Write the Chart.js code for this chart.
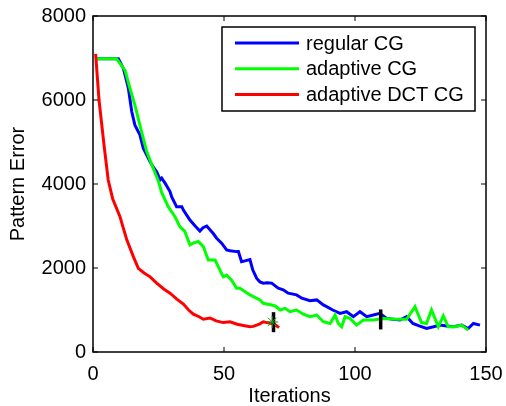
<!DOCTYPE html>
<html>
<head>
<meta charset="utf-8">
<script src="https://cdn.jsdelivr.net/npm/chart.js@4.4.1/dist/chart.umd.min.js"></script>
<style>
  html, body { margin: 0; padding: 0; background: #fff; }
  #wrap { width: 506px; height: 406px; }
</style>
</head>
<body>
<div id="wrap"><canvas id="errChart"></canvas></div>
<script>
// ─── Data ────────────────────────────────────────────────────────────────────
const seriesLabels = ['regular CG', 'adaptive CG', 'adaptive DCT CG'];

const regularIters = [1, 9.7, 11.6, 13.5, 14.8, 16, 17.9, 19.2, 21.8, 23, 24.3, 25.6, 26.2, 27.5, 29.4, 30, 31.9, 33.9, 34.5, 37, 39, 40.8, 42, 43.4, 45.9, 47.2, 49.1, 51, 52.3, 54.8, 55.5, 56.7, 58, 59.9, 61, 62.5, 63.7, 65, 66.5, 68.2, 70.7, 72.6, 74.5, 77.7, 79.7, 82.8, 85.4, 87.9, 89.2, 91.5, 94.3, 96.8, 99.4, 101.9, 104.5, 107, 109.5, 112.1, 114.5, 117.2, 119.7, 122.1, 124.5, 127.3, 130, 132.4, 135, 137.5, 140.7, 143.2, 145.2, 147.7];
const regularErr   = [6980, 6980, 6750, 6280, 5720, 5400, 5170, 4850, 4530, 4400, 4290, 4100, 4140, 4020, 3820, 3700, 3460, 3460, 3380, 3140, 3000, 2880, 2960, 3000, 2820, 2710, 2590, 2430, 2410, 2390, 2390, 2150, 2170, 2200, 1950, 1750, 1670, 1640, 1650, 1640, 1520, 1480, 1400, 1360, 1280, 1220, 1240, 1120, 1080, 1000, 920, 960, 840, 960, 840, 880, 920, 800, 780, 760, 840, 680, 620, 560, 600, 640, 620, 600, 640, 560, 680, 640];

const adaptiveIters = [1, 9, 12.2, 14.1, 16, 17.9, 20.5, 23, 24.9, 26.2, 28.7, 31.3, 33.2, 35, 37, 38.5, 40.2, 42.1, 44, 46.6, 49.7, 51, 52.9, 54.8, 56.1, 59.9, 63.7, 65, 68.2, 69.5, 71.4, 73.3, 75.2, 77.7, 80.3, 82.8, 85.4, 87.9, 90.5, 92.4, 93.6, 94.9, 96.2, 98.1, 100.6, 103.2, 107, 110.8, 115.9, 119.7, 122.9, 125.4, 127.3, 129.2, 131.8, 133.7, 135.6, 138.2, 140.7, 143.2];
const adaptiveErr   = [6980, 6980, 6710, 6280, 5880, 5400, 4770, 4370, 4080, 3800, 3460, 3220, 2980, 2880, 2550, 2600, 2630, 2510, 2190, 2190, 1790, 1830, 1710, 1520, 1520, 1360, 1240, 1160, 1120, 1100, 1000, 1040, 960, 1000, 900, 840, 880, 720, 680, 880, 680, 600, 840, 800, 640, 760, 760, 800, 780, 780, 1080, 700, 680, 1000, 600, 860, 600, 600, 640, 520];

const dctIters = [1, 2.3, 4.2, 5.8, 7.5, 10.3, 12.9, 15.4, 17.3, 19.5, 21.8, 24.3, 27, 29.4, 32, 34.5, 36.5, 38.3, 40.5, 42.1, 44.7, 47, 49.7, 52.3, 55, 57.4, 59.9, 61.2, 63.7, 65, 66.3, 68.2, 69.5, 71];
const dctErr   = [7100, 6000, 4930, 4095, 3650, 3220, 2670, 2270, 1990, 1880, 1790, 1640, 1500, 1400, 1260, 1140, 1000, 900, 840, 780, 810, 740, 700, 720, 660, 630, 600, 610, 670, 720, 700, 680, 650, 580];

// stop markers (black bars)
const stopIters = [68.9, 109.8];
const stopErr   = [710, 775];
const starIters = [68.4];
const starErr   = [715];

const xTicks = [0, 50, 100, 150];
const yTicks = [0, 2000, 4000, 6000, 8000];

function pts(xs, ys) {
    return xs.map(function (x, i) { return { x: x, y: ys[i] }; });
}

const FONT = { family: "'Liberation Sans', Arial, sans-serif", size: 20 };

// ─── Box + inward ticks (MATLAB style) ───────────────────────────────────────
const boxPlugin = {
    id: 'box',
    afterDatasetsDraw: function (chart) {
        const ctx = chart.ctx, a = chart.chartArea;
        const xs = chart.scales.x, ys = chart.scales.y;
        ctx.save();
        ctx.strokeStyle = '#000';
        ctx.lineWidth = 1.5;
        ctx.strokeRect(a.left, a.top, a.right - a.left, a.bottom - a.top);
        ctx.lineWidth = 1;
        ctx.beginPath();
        xTicks.forEach(function (v) {
            const px = xs.getPixelForValue(v);
            ctx.moveTo(px, a.bottom); ctx.lineTo(px, a.bottom - 5);
            ctx.moveTo(px, a.top);    ctx.lineTo(px, a.top + 5);
        });
        yTicks.forEach(function (v) {
            const py = ys.getPixelForValue(v);
            ctx.moveTo(a.left, py);  ctx.lineTo(a.left + 5, py);
            ctx.moveTo(a.right, py); ctx.lineTo(a.right - 5, py);
        });
        ctx.stroke();
        ctx.restore();
    }
};

// ─── Legend box inside the plot, top right ───────────────────────────────────
const legendPlugin = {
    id: 'boxLegend',
    afterDraw: function (chart) {
        const ctx = chart.ctx;
        const bx = 222, by = 27, bw = 253, bh = 84;
        ctx.save();
        ctx.fillStyle = '#fff';
        ctx.fillRect(bx, by, bw, bh);
        ctx.strokeStyle = '#000';
        ctx.lineWidth = 1.5;
        ctx.strokeRect(bx, by, bw, bh);
        ctx.font = FONT.size + 'px ' + FONT.family;
        ctx.textBaseline = 'middle';
        ctx.fillStyle = '#000';
        seriesLabels.forEach(function (lbl, i) {
            const ds = chart.data.datasets[i];
            const y = by + 16 + i * 25.7;
            ctx.strokeStyle = ds.borderColor;
            ctx.lineWidth = 3;
            ctx.beginPath();
            ctx.moveTo(235, y); ctx.lineTo(299, y);
            ctx.stroke();
            ctx.fillText(lbl, 306, y + 1);
        });
        ctx.restore();
    }
};

new Chart(document.getElementById('errChart'), {
    type: 'line',
    data: {
        datasets: [
            {
                label: seriesLabels[0],
                data: pts(regularIters, regularErr),
                borderColor: '#0000ff',
                borderWidth: 3,
                pointRadius: 0,
                tension: 0,
                order: 3
            },
            {
                label: seriesLabels[1],
                data: pts(adaptiveIters, adaptiveErr),
                borderColor: '#00ff00',
                borderWidth: 3,
                pointRadius: 0,
                tension: 0,
                order: 2
            },
            {
                label: seriesLabels[2],
                data: pts(dctIters, dctErr),
                borderColor: '#ff0000',
                borderWidth: 3,
                pointRadius: 0,
                tension: 0,
                order: 1
            },
            {
                label: 'star',
                data: pts(starIters, starErr),
                showLine: false,
                pointStyle: 'star',
                pointRadius: 6,
                borderColor: '#1a9a1a',
                borderWidth: 1,
                order: 0
            },
            {
                label: 'stop',
                data: pts(stopIters, stopErr),
                showLine: false,
                pointStyle: 'line',
                rotation: 90,
                pointRadius: 10,
                borderColor: '#000',
                borderWidth: 3.5,
                order: 0
            }
        ]
    },
    plugins: [boxPlugin, legendPlugin],
    options: {
        responsive: true,
        maintainAspectRatio: false,
        animation: false,
        layout: { padding: { left: 0, top: 16, right: 20, bottom: 0 } },
        plugins: {
            legend: { display: false },
            tooltip: { enabled: false }
        },
        scales: {
            x: {
                type: 'linear',
                min: 0,
                max: 150,
                afterBuildTicks: function (s) { s.ticks = xTicks.map(function (v) { return { value: v }; }); },
                afterFit: function (s) { s.height = 54; s.paddingLeft = 0; s.paddingRight = 0; },
                ticks: { color: '#000', font: FONT, padding: 10, maxRotation: 0 },
                grid: { display: false, drawTicks: false },
                border: { display: false },
                title: { display: true, text: 'Iterations', color: '#000', font: { family: FONT.family, size: 20, lineHeight: 1 }, padding: { top: 0, bottom: 0 } }
            },
            y: {
                min: 0,
                max: 8000,
                afterBuildTicks: function (s) { s.ticks = yTicks.map(function (v) { return { value: v }; }); },
                afterFit: function (s) { s.width = 93; s.paddingTop = 0; s.paddingBottom = 0; },
                ticks: {
                    color: '#000', font: FONT, padding: 7,
                    callback: function (v) { return String(v); }
                },
                grid: { display: false, drawTicks: false },
                border: { display: false },
                title: { display: true, text: 'Pattern Error', color: '#000', font: FONT, padding: { top: 6, bottom: 0 } }
            }
        }
    }
});
</script>
</body>
</html>
